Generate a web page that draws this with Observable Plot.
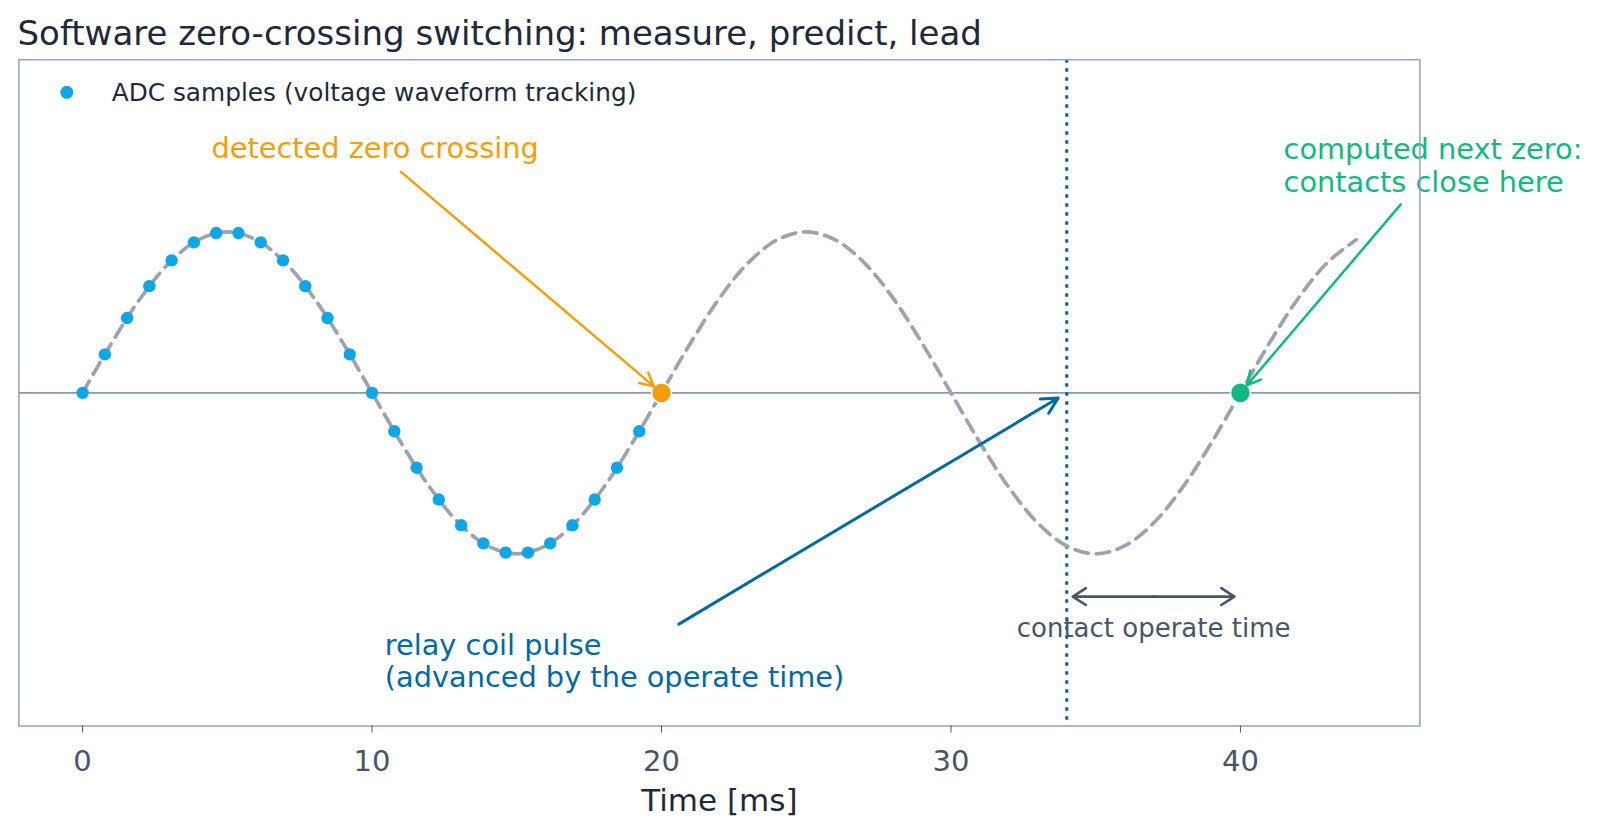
<!DOCTYPE html>
<html>
<head>
<meta charset="utf-8">
<script src="https://cdn.jsdelivr.net/npm/d3@7"></script>
<script src="https://cdn.jsdelivr.net/npm/@observablehq/plot@0.6"></script>
<style>
  html, body { margin: 0; padding: 0; background: #fff; }
  #wrap { position: relative; width: 1600px; height: 836px; }
  #title {
    position: absolute; left: 17.5px; top: 16px; z-index: 2;
    font: 34px/34px "DejaVu Sans", sans-serif; color: #1e293b; white-space: nowrap;
  }
</style>
</head>
<body>
<div id="wrap">
  <div id="title">Software zero-crossing switching: measure, predict, lead</div>
</div>
<script>
// Voltage waveform (normalised), 1 ms grid; measured first cycle then the predicted continuation
const waveTime = [0, 1, 2, 3, 4, 5, 6, 7, 8, 9, 10, 11, 12, 13, 14, 15, 16, 17, 18, 19, 20,
  21, 22, 23, 24, 25, 26, 27, 28, 29, 30, 31, 32, 33, 34, 35, 36, 37, 38, 39, 40, 41, 42, 43, 44];
const waveVolt = [0, 0.309, 0.588, 0.809, 0.951, 1, 0.951, 0.809, 0.588, 0.309, 0,
  -0.309, -0.588, -0.809, -0.951, -1, -0.951, -0.809, -0.588, -0.309, 0,
  0.309, 0.588, 0.809, 0.951, 1, 0.951, 0.809, 0.588, 0.309, 0,
  -0.309, -0.588, -0.809, -0.951, -1, -0.951, -0.809, -0.588, -0.309, 0,
  0.309, 0.588, 0.809, 0.951];

// ADC samples taken during the first cycle
const sampleTime = [0, 0.769, 1.538, 2.308, 3.077, 3.846, 4.615, 5.385, 6.154, 6.923, 7.692, 8.462, 9.231,
  10, 10.769, 11.538, 12.308, 13.077, 13.846, 14.615, 15.385, 16.154, 16.923, 17.692, 18.462, 19.231];
const sampleVolt = [0, 0.239, 0.465, 0.663, 0.823, 0.935, 0.993, 0.993, 0.935, 0.823, 0.663, 0.465, 0.239,
  0, -0.239, -0.465, -0.663, -0.823, -0.935, -0.993, -0.993, -0.935, -0.823, -0.663, -0.465, -0.239];

// Key instants (ms)
const detectedZeroTime = 20;
const nextZeroTime = 40;
const coilPulseTime = 34;
const xTicks = [0, 10, 20, 30, 40];

const wave = waveTime.map((t, i) => ({t, v: waveVolt[i]}));
const samples = sampleTime.map((t, i) => ({t, v: sampleVolt[i]}));

const ORANGE = "#f59e0b", GREEN = "#10b981", BLUE = "#0369a1", SLATE = "#475569", INK = "#1e293b";

// Callouts: label anchor (tx, ty), arrow tail (ax, ay) and the point it targets (px, py)
const callouts = [
  {label: "detected zero crossing", color: ORANGE, tx: 4.45, ty: 1.462, ax: 11.0, ay: 1.373, px: detectedZeroTime, py: 0, lh: 1.14, sw: 2.5},
  {label: "computed next zero:\ncontacts close here", color: GREEN, tx: 41.49, ty: 1.25, ax: 45.54, ay: 1.171, px: nextZeroTime, py: 0, lh: 1.14, sw: 2.5},
  {label: "relay coil pulse\n(advanced by the operate time)", color: BLUE, tx: 10.44, ty: -1.83, ax: 20.6, ay: -1.437, px: coilPulseTime, py: 0, lh: 1.125, sw: 3}
];

// Operate-time span between coil pulse and contact closure
const operateMid = (coilPulseTime + nextZeroTime) / 2;
const operateSpan = [
  {from: operateMid, to: coilPulseTime, y: -1.266},
  {from: operateMid, to: nextZeroTime, y: -1.266}
];

const calloutMarks = callouts.flatMap(c => [
  Plot.arrow([c], {
    x1: "ax", y1: "ay", x2: "px", y2: "py",
    stroke: c.color, strokeWidth: c.sw, headLength: 9, headAngle: 55, insetEnd: 10
  }),
  Plot.text([c], {
    x: "tx", y: "ty", text: "label", fill: c.color, fontSize: 28.8,
    textAnchor: "start", lineAnchor: "bottom", lineHeight: c.lh
  })
]);

const chart = Plot.plot({
  width: 1600,
  height: 836,
  marginTop: 59.2,
  marginBottom: 110.5,
  marginLeft: 18.4,
  marginRight: 180.6,
  style: {fontFamily: '"DejaVu Sans", sans-serif', background: "#fff", overflow: "visible"},
  x: {domain: [-2.2, 46.2]},
  y: {domain: [-2.07, 2.07], axis: null},
  marks: [
    Plot.ruleY([0], {stroke: "#8a99ab", strokeWidth: 1.6}),
    Plot.ruleX([coilPulseTime], {stroke: "#0b5f8f", strokeWidth: 3, strokeDasharray: "3.5,5.5"}),
    Plot.line(wave, {x: "t", y: "v", curve: "catmull-rom", stroke: "#9ca3af", strokeWidth: 3.7, strokeDasharray: "13.5,8"}),
    Plot.dot(samples, {x: "t", y: "v", r: 6.2, fill: "#0ea5e9"}),
    Plot.dot([{t: detectedZeroTime, v: 0}], {x: "t", y: "v", r: 10, fill: ORANGE, stroke: "#fff", strokeWidth: 1.5}),
    Plot.dot([{t: nextZeroTime, v: 0}], {x: "t", y: "v", r: 10, fill: GREEN, stroke: "#fff", strokeWidth: 1.5}),
    Plot.arrow(operateSpan, {
      x1: "from", y1: "y", x2: "to", y2: "y",
      stroke: SLATE, strokeWidth: 2.6, headLength: 9, headAngle: 65, insetEnd: 6
    }),
    Plot.text(["contact operate time"], {
      x: operateMid, y: -1.52, text: d => d, fill: SLATE, fontSize: 26, textAnchor: "middle", lineAnchor: "bottom"
    }),
    ...calloutMarks,
    Plot.frame({stroke: "#94a3b8", strokeWidth: 1.5}),
    Plot.axisX({
      ticks: xTicks, tickSize: 7, tickPadding: 17, fontSize: 29,
      color: SLATE, label: null, tickFormat: d => String(d)
    }),
    Plot.text(["Time [ms]"], {
      frameAnchor: "bottom", dy: 85.2, text: d => d, fill: INK, fontSize: 31, lineAnchor: "bottom"
    }),
    // legend
    Plot.dot(["ADC samples"], {frameAnchor: "top-left", dx: 47.9, dy: 32.6, r: 6.5, fill: "#0ea5e9"}),
    Plot.text(["ADC samples (voltage waveform tracking)"], {
      frameAnchor: "top-left", dx: 92.8, dy: 33.5, text: d => d, fill: INK, fontSize: 24.8,
      textAnchor: "start", lineAnchor: "middle"
    })
  ]
});

document.getElementById("wrap").appendChild(chart);
</script>
</body>
</html>
